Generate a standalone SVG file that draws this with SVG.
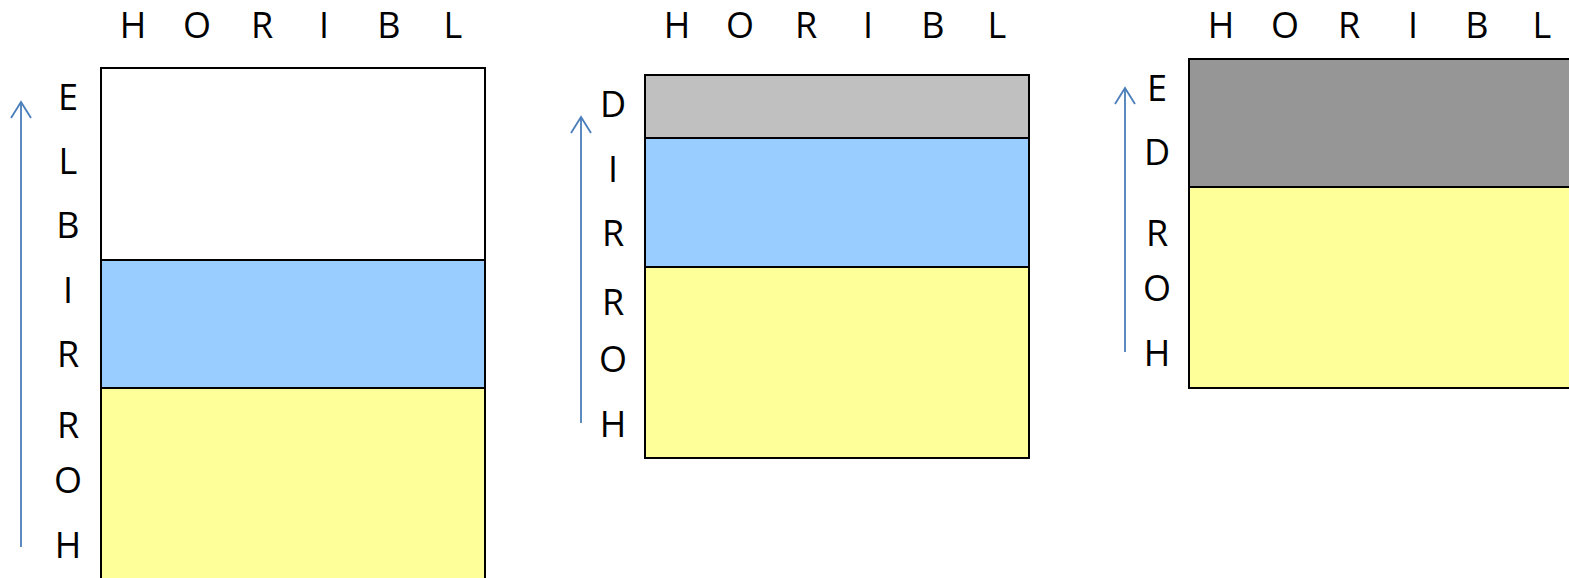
<svg xmlns="http://www.w3.org/2000/svg" width="1569" height="578" viewBox="0 0 1569 578">
<style>
  text { font-family: "Open Sans", "Liberation Sans", sans-serif; font-size: 36px; fill: #000; text-anchor: middle; }
  .box { stroke: #000; stroke-width: 2; }
  .white { fill: #ffffff; }
  .blue { fill: #99ccff; }
  .yellow { fill: #ffff99; }
  .lgray { fill: #c0c0c0; }
  .dgray { fill: #969696; }
  .arrow { stroke: #4a7ebb; stroke-width: 1.8; fill: none; }
</style>
<defs>
  <marker id="open" markerUnits="userSpaceOnUse" markerWidth="24" markerHeight="26" refX="0" refY="0" orient="auto" viewBox="-20 -13 24 26" overflow="visible">
    <path d="M-16 -10 L0 0 L-16 10" fill="none" stroke="#4a7ebb" stroke-width="1.8"/>
  </marker>
</defs>

<g id="panel1">
  <rect class="box white" x="101" y="68" width="384" height="192"/>
  <rect class="box blue" x="101" y="260" width="384" height="128"/>
  <rect class="box yellow" x="101" y="388" width="384" height="200"/>
  <g id="panel1-top">
    <text x="133" y="38">H</text>
    <text x="197" y="38">O</text>
    <text x="262" y="38">R</text>
    <text x="324" y="38">I</text>
    <text x="389" y="38">B</text>
    <text x="453" y="38">L</text>
  </g>
  <g id="panel1-side">
    <text x="68" y="110">E</text>
    <text x="68" y="174">L</text>
    <text x="68" y="238">B</text>
    <text x="68" y="303">I</text>
    <text x="68" y="367">R</text>
    <text x="68" y="438">R</text>
    <text x="68" y="493">O</text>
    <text x="68" y="558">H</text>
  </g>
</g>

<g id="panel2">
  <rect class="box lgray" x="645" y="75" width="384" height="63"/>
  <rect class="box blue" x="645" y="138" width="384" height="129"/>
  <rect class="box yellow" x="645" y="267" width="384" height="191"/>
  <g id="panel2-top">
    <text x="677" y="38">H</text>
    <text x="740" y="38">O</text>
    <text x="806" y="38">R</text>
    <text x="868" y="38">I</text>
    <text x="933" y="38">B</text>
    <text x="997" y="38">L</text>
  </g>
  <g id="panel2-side">
    <text x="613" y="117">D</text>
    <text x="613" y="182">I</text>
    <text x="613" y="246">R</text>
    <text x="613" y="315">R</text>
    <text x="613" y="372">O</text>
    <text x="613" y="437">H</text>
  </g>
</g>

<g id="panel3">
  <rect class="box dgray" x="1189" y="59" width="400" height="128"/>
  <rect class="box yellow" x="1189" y="187" width="400" height="201"/>
  <g id="panel3-top">
    <text x="1221" y="38">H</text>
    <text x="1285" y="38">O</text>
    <text x="1349" y="38">R</text>
    <text x="1413" y="38">I</text>
    <text x="1477" y="38">B</text>
    <text x="1542" y="38">L</text>
  </g>
  <g id="panel3-side">
    <text x="1157" y="101">E</text>
    <text x="1157" y="165">D</text>
    <text x="1157" y="246">R</text>
    <text x="1157" y="301">O</text>
    <text x="1157" y="366">H</text>
  </g>
</g>

<g id="connectors">
  <line class="arrow" x1="21" y1="547" x2="21" y2="102" marker-end="url(#open)"/>
  <line class="arrow" x1="581" y1="423" x2="581" y2="117" marker-end="url(#open)"/>
  <line class="arrow" x1="1125" y1="352" x2="1125" y2="88" marker-end="url(#open)"/>
</g>
</svg>
